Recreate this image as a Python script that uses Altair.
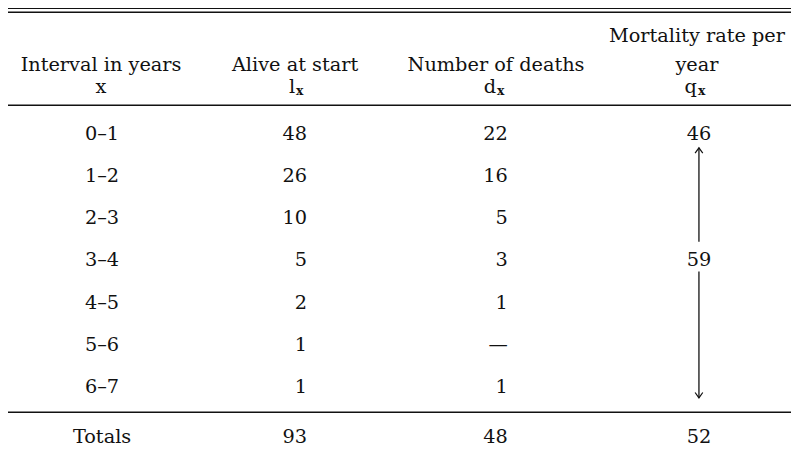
import altair as alt
import pandas as pd

# ---------------- data (table content) ----------------
HEADER_1 = ["", "", "", "Mortality rate per"]
HEADER_2 = ["Interval in years", "Alive at start", "Number of deaths", "year"]
HEADER_SYMBOL = ["x", "l", "d", "q"]
HEADER_SUB = ["", "x", "x", "x"]
INTERVALS = ["0–1", "1–2", "2–3", "3–4", "4–5", "5–6", "6–7"]
ALIVE = ["48", "26", "10", "5", "2", "1", "1"]
DEATHS = ["22", "16", "5", "3", "1", "—", "1"]
MORTALITY = ["46", "", "", "59", "", "", ""]
TOTALS = ["Totals", "93", "48", "52"]

# ---------------- layout (page pixels) ----------------
PAGE_W, MARGIN = 799, 8
PLOT_W, PLOT_H = 791, 445
COL_CENTER = [102, 298, 501, 704]       # header / centred columns
NUM_RIGHT = [None, 310, 513, None]       # right edge of numeric columns
VAL_CENTER = [103, None, None, 706]
HEAD_Y = [34, 63, 86]
SUB_DY = 4
ROW0, ROW_STEP = 133, 42.6
TOTAL_Y = 439
RULES_Y = [6, 10, 104, 414]
RULE_X = (5, 799)
FONT = "DejaVu Serif"
FS = 19.5
INK = "#111111"

row_y = [ROW0 + i * ROW_STEP for i in range(len(INTERVALS))]

# ---------------- tables for marks ----------------
center_rows = []
for c, t in enumerate(HEADER_1):
    if t:
        center_rows.append({"x": COL_CENTER[c], "y": HEAD_Y[0], "t": t})
for c, t in enumerate(HEADER_2):
    center_rows.append({"x": COL_CENTER[c], "y": HEAD_Y[1], "t": t})
center_rows.append({"x": COL_CENTER[0], "y": HEAD_Y[2], "t": HEADER_SYMBOL[0]})
for i, t in enumerate(INTERVALS):
    center_rows.append({"x": VAL_CENTER[0], "y": row_y[i], "t": t})
for i, t in enumerate(MORTALITY):
    if t:
        center_rows.append({"x": VAL_CENTER[3], "y": row_y[i], "t": t})
center_rows.append({"x": VAL_CENTER[0], "y": TOTAL_Y, "t": TOTALS[0]})
center_rows.append({"x": VAL_CENTER[3], "y": TOTAL_Y, "t": TOTALS[3]})
center_df = pd.DataFrame(center_rows)

right_rows = []
for i, t in enumerate(ALIVE):
    right_rows.append({"x": NUM_RIGHT[1], "y": row_y[i], "t": t})
for i, t in enumerate(DEATHS):
    right_rows.append({"x": NUM_RIGHT[2], "y": row_y[i], "t": t})
right_rows.append({"x": NUM_RIGHT[1], "y": TOTAL_Y, "t": TOTALS[1]})
right_rows.append({"x": NUM_RIGHT[2], "y": TOTAL_Y, "t": TOTALS[2]})
for c in range(1, 4):
    right_rows.append({"x": COL_CENTER[c], "y": HEAD_Y[2], "t": HEADER_SYMBOL[c]})
right_df = pd.DataFrame(right_rows)

sub_df = pd.DataFrame(
    [{"x": COL_CENTER[c] + 1, "y": HEAD_Y[2] + SUB_DY, "t": HEADER_SUB[c]} for c in range(1, 4)]
)

rules_df = pd.DataFrame([{"y": y, "x1": RULE_X[0], "x2": RULE_X[1]} for y in RULES_Y])

arrow_x = VAL_CENTER[3]
seg_df = pd.DataFrame(
    [
        {"x": arrow_x, "y1": row_y[0] + 14, "y2": row_y[3] - 19},
        {"x": arrow_x, "y1": row_y[3] + 11, "y2": row_y[6] + 11},
    ]
)
head_up_df = pd.DataFrame([{"x": arrow_x, "y": row_y[0] + 14}])
head_dn_df = pd.DataFrame([{"x": arrow_x, "y": row_y[6] + 11}])

# ---------------- scales ----------------
XS = alt.Scale(domain=[MARGIN, PAGE_W], nice=False, zero=False)
YS = alt.Scale(domain=[MARGIN, MARGIN + PLOT_H], reverse=True, nice=False, zero=False)


def X(f):
    return alt.X(f, type="quantitative", scale=XS, axis=None)


def Y(f):
    return alt.Y(f, type="quantitative", scale=YS, axis=None)


text_center = alt.Chart(center_df).mark_text(
    font=FONT, fontSize=FS, align="center", baseline="middle", color=INK
).encode(x=X("x"), y=Y("y"), text="t:N")

text_right = alt.Chart(right_df).mark_text(
    font=FONT, fontSize=FS, align="right", baseline="middle", color=INK
).encode(x=X("x"), y=Y("y"), text="t:N")

text_sub = alt.Chart(sub_df).mark_text(
    font=FONT, fontSize=12.5, fontWeight="bold", align="left", baseline="middle", color=INK
).encode(x=X("x"), y=Y("y"), text="t:N")

rules = alt.Chart(rules_df).mark_rule(color=INK, strokeWidth=1.5).encode(
    x=X("x1"), x2="x2", y=Y("y")
)

segments = alt.Chart(seg_df).mark_rule(color=INK, strokeWidth=1.3).encode(
    x=X("x"), y=Y("y1"), y2="y2"
)

head_up = alt.Chart(head_up_df).mark_point(
    shape="M -1 1.4 L 0 0 L 1 1.4", size=60, filled=False, color=INK, strokeWidth=1.2, opacity=1
).encode(x=X("x"), y=Y("y"))

head_dn = alt.Chart(head_dn_df).mark_point(
    shape="M -1 -1.4 L 0 0 L 1 -1.4", size=60, filled=False, color=INK, strokeWidth=1.2, opacity=1
).encode(x=X("x"), y=Y("y"))

chart = (
    alt.layer(rules, segments, head_up, head_dn, text_center, text_right, text_sub)
    .properties(
        width=PLOT_W,
        height=PLOT_H,
        autosize=alt.AutoSizeParams(type="none"),
        padding=0,
        background="white",
    )
    .configure_view(stroke=None)
)

chart.save("out.html", embed_options={"renderer": "svg", "actions": False})
